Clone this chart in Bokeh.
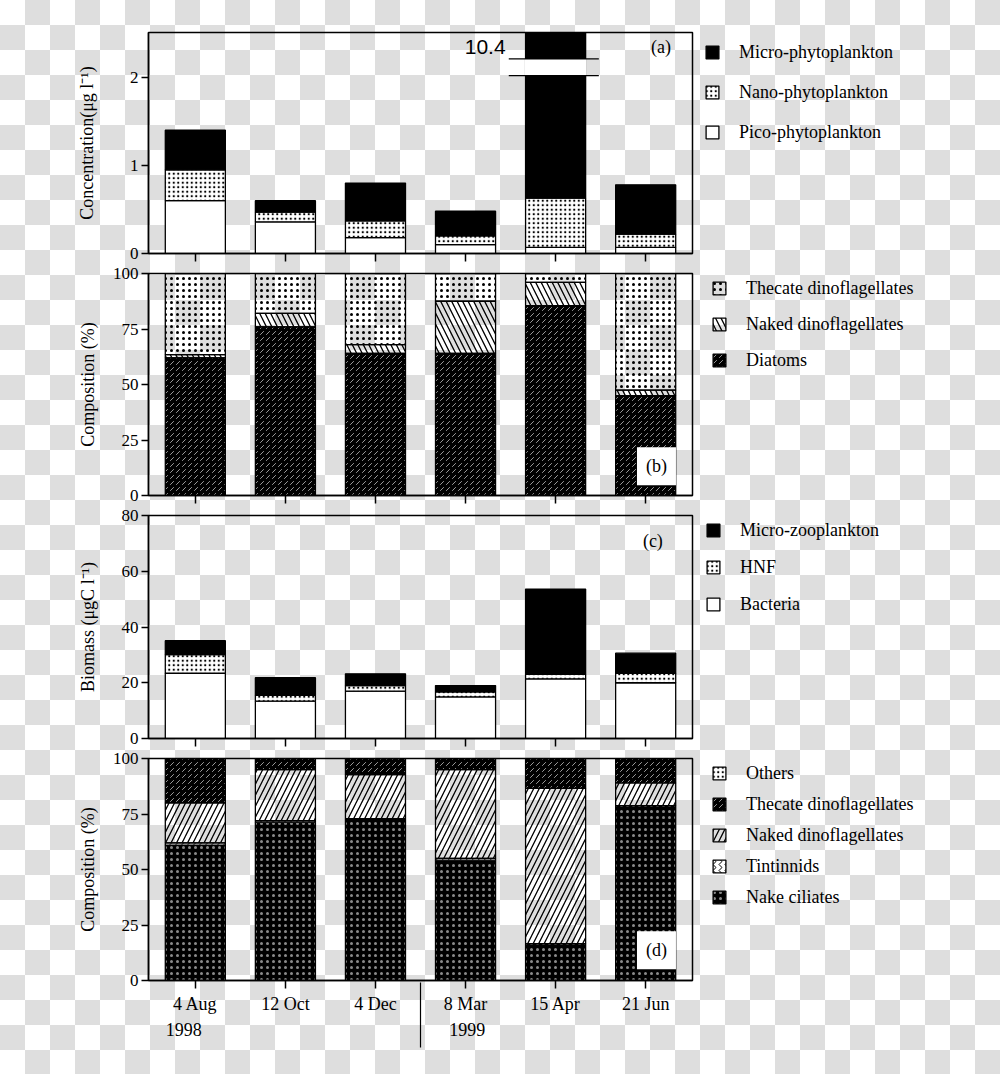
from bokeh.plotting import figure
from bokeh.layouts import column
from bokeh.models import (Range1d, FixedTicker, Legend, LegendItem, Label, LinearAxis,
                          ColumnDataSource)
from bokeh.embed import file_html
from bokeh.resources import INLINE

# ---------------- data ----------------
dates = ["4 Aug", "12 Oct", "4 Dec", "8 Mar", "15 Apr", "21 Jun"]
years = ["1998", "1999"]

# (a) phytoplankton concentration (ug/l)
pico = [0.60, 0.36, 0.18, 0.10, 0.07, 0.07]
nano = [0.35, 0.11, 0.19, 0.10, 0.56, 0.15]
micro = [0.45, 0.13, 0.43, 0.28, 9.77, 0.56]
apr_total_label = "10.4"

# (b) phytoplankton composition (%)
diatoms = [62.0, 76.0, 64.0, 64.0, 85.5, 45.0]
naked_b = [1.5, 6.0, 4.0, 23.5, 10.5, 2.5]
thecate_b = [36.5, 18.0, 32.0, 12.5, 4.0, 52.5]

# (c) biomass (ugC/l)
bacteria = [23.4, 13.4, 17.0, 14.9, 21.4, 20.0]
hnf = [6.7, 2.1, 2.0, 1.8, 1.6, 3.4]
microzoo = [5.0, 6.3, 4.2, 2.3, 30.6, 7.2]

# (d) micro-zooplankton composition (%)
ciliates = [61.0, 71.3, 72.8, 54.2, 16.6, 78.8]
tintinnids = [1.0, 0.7, 0.0, 0.8, 0.0, 0.0]
naked_d = [18.0, 23.0, 19.9, 40.0, 70.0, 10.2]
thecate_d = [20.0, 5.0, 7.3, 5.0, 13.4, 11.0]
others = [0.0, 0.0, 0.0, 0.0, 0.0, 0.0]

# ---------------- styling ----------------
SERIF = "Liberation Serif"
FS = "18px"
TFS = "17px"
LEFT = 148
FRAME_W = 544
BAR_W = 0.667
xs = list(range(len(dates)))
XPAD = 0.52
ITEM_H = 22


def make_fig(frame_h, top, bottom, y_end, yticks, ylabel, label_standoff, show_x):
    p = figure(frame_width=FRAME_W, frame_height=frame_h,
               x_range=Range1d(-XPAD, len(dates) - 1 + XPAD),
               y_range=Range1d(0, y_end),
               output_backend="svg", toolbar_location=None,
               min_border_left=LEFT, min_border_right=0,
               min_border_top=top, min_border_bottom=bottom)
    p.background_fill_alpha = 0
    p.border_fill_alpha = 0
    p.outline_line_color = "black"
    p.outline_line_width = 1.5
    p.outline_line_alpha = 1
    p.grid.visible = False

    ya = p.yaxis[0]
    ya.ticker = FixedTicker(ticks=yticks)
    ya.axis_label = ylabel
    ya.axis_label_text_font = SERIF
    ya.axis_label_text_font_size = FS
    ya.axis_label_text_font_style = "normal"
    ya.axis_label_text_color = "black"
    ya.axis_label_standoff = label_standoff
    ya.major_label_text_font = SERIF
    ya.major_label_text_font_size = TFS
    ya.major_label_text_color = "black"
    ya.major_label_standoff = 3
    ya.major_tick_out = 7
    ya.major_tick_in = 0
    ya.minor_tick_out = 0
    ya.minor_tick_in = 0
    ya.axis_line_width = 1.5
    ya.major_tick_line_width = 1.5

    xa = p.xaxis[0]
    xa.ticker = FixedTicker(ticks=xs)
    xa.major_tick_out = 8
    xa.major_tick_in = 0
    xa.minor_tick_in = 0
    xa.minor_tick_out = 0
    xa.axis_line_width = 1.5
    xa.major_tick_line_width = 1.5
    if show_x:
        xa.major_label_overrides = {i: d for i, d in enumerate(dates)}
        xa.major_label_text_font = SERIF
        xa.major_label_text_font_size = FS
        xa.major_label_text_color = "black"
        xa.major_label_standoff = 5
    else:
        xa.major_label_text_font_size = "1px"
        xa.major_label_text_alpha = 0
        xa.major_label_standoff = 0
    return p


def stack(p, names, values, styles):
    data = {"x": xs}
    for n, v in zip(names, values):
        data[n] = v
    src = ColumnDataSource(data)
    rs = p.vbar_stack(names, x="x", width=BAR_W, source=src,
                      line_color="black", line_width=1.3,
                      fill_color=[s[0] for s in styles],
                      fill_alpha=[s[1] for s in styles],
                      hatch_pattern=[s[2] for s in styles],
                      hatch_color=[s[3] for s in styles],
                      hatch_scale=[s[4] for s in styles],
                      hatch_weight=[s[5] for s in styles])
    return rs


def add_legend(p, frame_h, labels, renderers, spacing, dx, dtop):
    n = len(labels)
    leg_h = n * ITEM_H + (n - 1) * spacing
    items = [LegendItem(label=l, renderers=[r]) for l, r in zip(labels, renderers)]
    lg = Legend(items=items, location=(dx, frame_h - dtop - leg_h),
                label_text_font=SERIF, label_text_font_size=FS, label_text_color="black",
                glyph_width=16, glyph_height=16, label_height=ITEM_H,
                label_standoff=19, spacing=spacing, padding=0, margin=0,
                border_line_color=None, background_fill_alpha=0)
    p.add_layout(lg, "right")


def panel_tag(p, x, y, text, box=False):
    kw = dict(x=x, y=y, text=text, text_font=SERIF, text_font_size=FS,
              text_color="black", text_align="center", text_baseline="middle")
    if box:
        kw.update(background_fill_color="white", background_fill_alpha=1,
                  padding=9)
    p.add_layout(Label(**kw))


# styles: (fill, fill_alpha, hatch, hatch_color, hatch_scale, hatch_weight)
BLACK = ("black", 1, " ", "black", 6, 1)
WHITE = ("white", 1, " ", "black", 6, 1)
DOTS = ("white", 1, "dot", "black", 4.5, 1.6)
LIGHT_DOTS = ("white", 0, "dot", "black", 6, 1.4)
BACK_DIAG = ("white", 0, "left_diagonal_line", "black", 11, 1.3)
FWD_DIAG = ("white", 0, "right_diagonal_line", "black", 11, 1.3)
DARK_DASH = ("black", 1, "right_diagonal_dash", "#9a9a9a", 6, 1)
DARK_DOTS = ("black", 1, "dot", "#8a8a8a", 6, 1.2)
WAVES = ("white", 1, "vertical_wave", "black", 6, 1)

# ---------------- panel (a) ----------------
FA = 221
pa = make_fig(FA, 32, 10, 2.51, [0, 1, 2], "Concentration(\u03bcg l\u207b\u00b9)", 30, False)
ra = stack(pa, ["pico", "nano", "micro"], [pico, nano, micro], [WHITE, DOTS, BLACK])
# axis break on the 15 Apr bar
BREAK_LO, BREAK_HI = 2.02, 2.21
bi = dates.index("15 Apr")
pa.quad(left=[bi - BAR_W / 2 - 0.01], right=[bi + BAR_W / 2 + 0.01],
        bottom=[BREAK_LO], top=[BREAK_HI], fill_color="white", line_color=None)
pa.segment(x0=[bi - 0.52, bi - 0.52], x1=[bi + 0.48, bi + 0.48],
           y0=[BREAK_LO, BREAK_HI], y1=[BREAK_LO, BREAK_HI],
           line_color="black", line_width=1.3)
pa.add_layout(Label(x=bi - 0.555, y=2.34, text=apr_total_label, text_align="right",
                    text_baseline="middle", text_font="Liberation Sans",
                    text_color="black", text_font_size="21px"))
panel_tag(pa, 5.17, 2.35, "(a)")
add_legend(pa, FA, ["Micro-phytoplankton", "Nano-phytoplankton", "Pico-phytoplankton"],
           [ra[2], ra[1], ra[0]], 18, 12, 9)

# ---------------- panel (b) ----------------
FB = 222
pb = make_fig(FB, 10, 10, 100, [0, 25, 50, 75, 100], "Composition (%)", 12, False)
rb = stack(pb, ["diatoms", "naked", "thecate"], [diatoms, naked_b, thecate_b],
           [DARK_DASH, BACK_DIAG, LIGHT_DOTS])
panel_tag(pb, 5.12, 13.2, "(b)", box=True)
add_legend(pb, FB, ["Thecate dinoflagellates", "Naked dinoflagellates", "Diatoms"],
           [rb[2], rb[1], rb[0]], 14, 19, 4)

# ---------------- panel (c) ----------------
FC = 223
pc = make_fig(FC, 10, 10, 80, [0, 20, 40, 60, 80], "Biomass (\u03bcgC l\u207b\u00b9)", 21, False)
rc = stack(pc, ["bacteria", "hnf", "microzoo"], [bacteria, hnf, microzoo],
           [WHITE, DOTS, BLACK])
panel_tag(pc, 5.08, 70.8, "(c)")
add_legend(pc, FC, ["Micro-zooplankton", "HNF", "Bacteria"], [rc[2], rc[1], rc[0]],
           15, 13, 4)

# ---------------- panel (d) ----------------
FD = 222
pd_ = make_fig(FD, 10, 80, 100, [0, 25, 50, 75, 100], "Composition (%)", 12, True)
rd = stack(pd_, ["ciliates", "tintinnids", "naked", "thecate", "others"],
           [ciliates, tintinnids, naked_d, thecate_d, others],
           [DARK_DOTS, WAVES, FWD_DIAG, DARK_DASH, DOTS])
panel_tag(pd_, 5.12, 13.6, "(d)", box=True)
add_legend(pd_, FD, ["Others", "Thecate dinoflagellates", "Naked dinoflagellates",
                     "Tintinnids", "Nake ciliates"],
           [rd[4], rd[3], rd[2], rd[1], rd[0]], 9, 19, 4)

# year axis: year names under the first date of each year, separator between years
year_pos = [-0.13, 3.02]
sep = (dates.index("4 Dec") + dates.index("8 Mar")) / 2
year_axis = LinearAxis(ticker=FixedTicker(ticks=year_pos, minor_ticks=[sep]),
                       major_label_overrides={yp: yr for yp, yr in zip(year_pos, years)},
                       axis_line_color=None, major_tick_line_color=None,
                       major_tick_in=0, major_tick_out=0,
                       minor_tick_in=34, minor_tick_out=31,
                       minor_tick_line_color="black", minor_tick_line_width=1.2,
                       major_label_text_font=SERIF, major_label_text_font_size=FS,
                       major_label_text_color="black", major_label_standoff=-25)
pd_.add_layout(year_axis, "below")

layout = column(pa, pb, pc, pd_, spacing=0)

html = file_html(layout, INLINE, "Plankton")
css = ("<style>html{background-color:#ffffff;"
       "background-image:repeating-conic-gradient(#dedede 0 25%, #ffffff 0 50%);"
       "background-size:50px 50px;background-position:0 0;overflow:hidden;}"
       "body{background:transparent;overflow:hidden;}</style>")
html = html.replace("<head>", "<head>" + css, 1)
open("out.html", "w").write(html)
